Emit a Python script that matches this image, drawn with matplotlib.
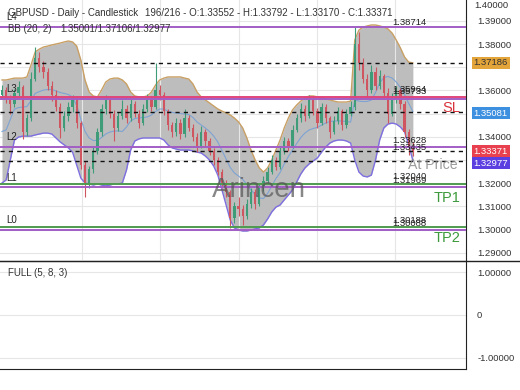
import numpy as np
import matplotlib
matplotlib.use('Agg')
import matplotlib.pyplot as plt
from matplotlib.lines import Line2D

plt.rcParams['font.family'] = ['Liberation Sans', 'DejaVu Sans']

# daily candles (open of each candle = previous close)
first_open = 1.3580
closes = [1.3600, 1.3560, 1.3540, 1.3590, 1.3615, 1.3420, 1.3480, 1.3650, 1.3740, 1.3700,
          1.3680, 1.3620, 1.3580, 1.3530, 1.3440, 1.3490, 1.3530, 1.3565, 1.3460, 1.3280,
          1.3200, 1.3260, 1.3340, 1.3420, 1.3520, 1.3560, 1.3500, 1.3440, 1.3490, 1.3520,
          1.3480, 1.3540, 1.3500, 1.3460, 1.3520, 1.3560, 1.3530, 1.3600, 1.3580, 1.3510,
          1.3450, 1.3420, 1.3460, 1.3410, 1.3480, 1.3440, 1.3400, 1.3360, 1.3420, 1.3380,
          1.3340, 1.3300, 1.3250, 1.3200, 1.3160, 1.3050, 1.3100, 1.3090, 1.3060, 1.3110,
          1.3160, 1.3110, 1.3180, 1.3210, 1.3250, 1.3300, 1.3270, 1.3340, 1.3380, 1.3360,
          1.3430, 1.3480, 1.3520, 1.3490, 1.3560, 1.3510, 1.3460, 1.3530, 1.3480, 1.3420,
          1.3470, 1.3510, 1.3450, 1.3500, 1.3530, 1.3800, 1.3720, 1.3650, 1.3600, 1.3680,
          1.3620, 1.3660, 1.3590, 1.3500, 1.3560, 1.3600, 1.3540, 1.3420, 1.33552, 1.33371]
highs = [1.3625, 1.3615, 1.3580, 1.3605, 1.3640, 1.3625, 1.3500, 1.3680, 1.3787, 1.3765,
         1.3725, 1.3695, 1.3640, 1.3600, 1.3545, 1.3510, 1.3550, 1.3580, 1.3575, 1.3470,
         1.3295, 1.3275, 1.3355, 1.3440, 1.3540, 1.3580, 1.3570, 1.3515, 1.3505, 1.3560,
         1.3535, 1.3565, 1.3555, 1.3515, 1.3540, 1.3585, 1.3575, 1.3718, 1.3625, 1.3595,
         1.3520, 1.3465, 1.3480, 1.3475, 1.3520, 1.3495, 1.3455, 1.3415, 1.3445, 1.3435,
         1.3395, 1.3350, 1.3315, 1.3260, 1.3215, 1.3170, 1.3120, 1.3140, 1.3105, 1.3130,
         1.3180, 1.3175, 1.3195, 1.3230, 1.3270, 1.3320, 1.3315, 1.3355, 1.3400, 1.3395,
         1.3450, 1.3500, 1.3545, 1.3535, 1.3580, 1.3570, 1.3525, 1.3545, 1.3540, 1.3490,
         1.3490, 1.3530, 1.3520, 1.3520, 1.3555, 1.38714, 1.3850, 1.3740, 1.3670, 1.3710,
         1.3700, 1.3690, 1.3670, 1.3610, 1.3590, 1.3620, 1.3610, 1.3555, 1.3435, 1.33792]
lows = [1.3565, 1.3545, 1.3500, 1.3530, 1.3575, 1.3390, 1.3405, 1.3470, 1.3640, 1.3680,
        1.3655, 1.3600, 1.3555, 1.3510, 1.3395, 1.3425, 1.3470, 1.3505, 1.3440, 1.3260,
        1.3140, 1.3180, 1.3245, 1.3325, 1.3405, 1.3500, 1.3480, 1.3380, 1.3425, 1.3475,
        1.3460, 1.3470, 1.3485, 1.3440, 1.3450, 1.3505, 1.3510, 1.3520, 1.3560, 1.3495,
        1.3430, 1.3400, 1.3405, 1.3390, 1.3400, 1.3425, 1.3380, 1.3335, 1.3350, 1.3360,
        1.3320, 1.3280, 1.3235, 1.3180, 1.3140, 1.3005, 1.3030, 1.3060, 1.3020, 1.3045,
        1.3095, 1.3090, 1.3100, 1.3165, 1.3195, 1.3240, 1.3255, 1.3260, 1.3325, 1.3340,
        1.3350, 1.3420, 1.3465, 1.3470, 1.3480, 1.3495, 1.3440, 1.3450, 1.3460, 1.3395,
        1.3410, 1.3455, 1.3430, 1.3440, 1.3490, 1.3515, 1.3690, 1.3630, 1.3570, 1.3590,
        1.3600, 1.3605, 1.3570, 1.3460, 1.3490, 1.3545, 1.3520, 1.3400, 1.3320, 1.33170]

# Bollinger bands (20, 2)
bb_upper = [1.3645, 1.3645, 1.3649, 1.3653, 1.3653, 1.3653, 1.3658, 1.3710, 1.3766, 1.3778,
            1.3787, 1.3791, 1.3796, 1.3800, 1.3804, 1.3809, 1.3813, 1.3809, 1.3791, 1.3731,
            1.3645, 1.3593, 1.3576, 1.3572, 1.3602, 1.3636, 1.3649, 1.3653, 1.3653, 1.3645,
            1.3628, 1.3593, 1.3576, 1.3572, 1.3572, 1.3576, 1.3593, 1.3623, 1.3645, 1.3653,
            1.3658, 1.3658, 1.3658, 1.3658, 1.3653, 1.3649, 1.3628, 1.3593, 1.3572, 1.3559,
            1.3546, 1.3533, 1.3520, 1.3511, 1.3503, 1.3494, 1.3481, 1.3464, 1.3438, 1.3395,
            1.3343, 1.3300, 1.3266, 1.3248, 1.3266, 1.3300, 1.3343, 1.3386, 1.3438, 1.3481,
            1.3516, 1.3537, 1.3554, 1.3567, 1.3576, 1.3576, 1.3572, 1.3567, 1.3563, 1.3559,
            1.3554, 1.3550, 1.3550, 1.3550, 1.3554, 1.3817, 1.3860, 1.3873, 1.3878, 1.3882,
            1.3882, 1.3878, 1.3873, 1.3865, 1.3847, 1.3817, 1.3783, 1.3744, 1.3722, 1.37186]
bb_lower = [1.3201, 1.3214, 1.3300, 1.3386, 1.3399, 1.3403, 1.3403, 1.3403, 1.3408, 1.3412,
            1.3416, 1.3416, 1.3412, 1.3395, 1.3378, 1.3365, 1.3352, 1.3334, 1.3278, 1.3222,
            1.3201, 1.3197, 1.3192, 1.3197, 1.3192, 1.3188, 1.3192, 1.3197, 1.3197, 1.3201,
            1.3257, 1.3343, 1.3382, 1.3391, 1.3395, 1.3395, 1.3395, 1.3395, 1.3395, 1.3386,
            1.3365, 1.3352, 1.3347, 1.3343, 1.3343, 1.3343, 1.3339, 1.3334, 1.3330, 1.3317,
            1.3300, 1.3274, 1.3235, 1.3171, 1.3106, 1.3041, 1.3007, 1.2998, 1.2994, 1.2994,
            1.2998, 1.3003, 1.3007, 1.3020, 1.3046, 1.3076, 1.3097, 1.3106, 1.3128, 1.3149,
            1.3171, 1.3205, 1.3240, 1.3266, 1.3283, 1.3296, 1.3309, 1.3334, 1.3356, 1.3373,
            1.3382, 1.3386, 1.3386, 1.3382, 1.3373, 1.3300, 1.3248, 1.3231, 1.3227, 1.3235,
            1.3300, 1.3386, 1.3438, 1.3455, 1.3459, 1.3455, 1.3442, 1.3421, 1.3365, 1.32977]

# current indicator values (dashed lines + right axis badges)
bb_last_upper = 1.37186
bb_last_mid = 1.35081
last_close = 1.33371
bb_last_lower = 1.32977

# level lines
purple_levels = [1.38714, 1.35650, 1.33573, 1.31850, 1.29980]
sl_level = 1.35733
tp_levels = [1.31960, 1.30130]
left_labels = [('L4', 1.39150), ('L3', 1.36040), ('L2', 1.33990), ('L1', 1.32220), ('L0', 1.30410)]
price_labels = [('1.38714', 1.38940), ('1.35964', 1.36050), ('1.35733', 1.35970),
                ('1.33628', 1.33860), ('1.33435', 1.33540), ('1.32040', 1.32270),
                ('1.31969', 1.32120), ('1.30188', 1.30410), ('1.30088', 1.30280)]
tick_vals = [1.29, 1.30, 1.31, 1.32, 1.34, 1.36, 1.38, 1.39]
grid_vals = np.arange(1.29, 1.395, 0.01)

o = np.array([first_open] + closes[:-1])
c = np.array(closes)
h = np.array(highs)
l = np.array(lows)
up = np.array(bb_upper)
lo = np.array(bb_lower)
mid = (up + lo) / 2
x = np.arange(len(c))

fig = plt.figure(figsize=(5.2, 3.9), dpi=100)
ax = fig.add_axes([0, 1 - 260 / 390, 466 / 520, 260 / 390])
ax2 = fig.add_axes([0, 1 - 369 / 390, 466 / 520, 108 / 390])

ax.set_xlim(-0.48, 111.8)
ax.set_ylim(1.28690, 1.39897)
ax.set_yticks(tick_vals)
ax.set_yticklabels([f'{v:.5f}' for v in tick_vals])
ax.set_xticks(np.arange(19.3, 100, 18.85))
ax.set_xticklabels([])
ax.yaxis.tick_right()
ax.tick_params(axis='y', length=0, pad=8, labelsize=6.8, labelcolor='#333333')
ax.tick_params(axis='x', length=0)
ax.grid(True, axis='x', color='#e6e6e6', lw=0.8, zorder=0)
for v in grid_vals:
    ax.axhline(v, color='#e6e6e6', lw=0.8, zorder=0)
for s in ['left', 'top', 'bottom']:
    ax.spines[s].set_visible(False)
ax.spines['right'].set_color('#222222')

# bands
ax.fill_between(x, lo, up, color='#bdbdbd', zorder=1, lw=0)
ax.plot(x, up, color='#c9a064', lw=1.0, zorder=2)
ax.plot(x, lo, color='#7d6fe0', lw=1.0, zorder=2)
ax.plot(x, mid, color='#7ea3d3', lw=0.8, zorder=2)

# candles
cols = np.where(c >= o, '#3f9c78', '#cf5560')
ax.vlines(x, l, h, colors=cols, lw=0.8, zorder=3)
ax.bar(x, np.maximum(np.abs(c - o), 0.0003), bottom=np.minimum(o, c), width=0.55,
       color=cols, zorder=3, lw=0)

# level lines
for v in [bb_last_upper, bb_last_mid, last_close, bb_last_lower]:
    ax.axhline(v, color='#111111', lw=1, ls=(0, (3, 3)), zorder=4)
for v in purple_levels:
    ax.axhline(v, color='#a25ec6', lw=1.4, zorder=4)
ax.axhline(sl_level, color='#e0457a', lw=1.4, zorder=4)
for v in tp_levels:
    ax.axhline(v, color='#4f9a4f', lw=1.4, zorder=4)

for txt, v in left_labels:
    ax.text(1, v, txt, fontsize=7, color='#222222', va='center', ha='left', zorder=5)
for txt, v in price_labels:
    ax.text(94, v, txt, fontsize=6.8, color='#222222', va='center', ha='left', zorder=5)

ax.text(110.4, 1.35250, 'SL', fontsize=10.5, color='#d8343c', ha='right', va='center', zorder=5)
ax.text(110.4, 1.31380, 'TP1', fontsize=10.5, color='#3c9a3c', ha='right', va='center', zorder=5)
ax.text(110.4, 1.29620, 'TP2', fontsize=10.5, color='#3c9a3c', ha='right', va='center', zorder=5)
ax.text(103.8, 1.32790, 'At Price', fontsize=10.2, color='#8a8a8a', ha='center', va='center',
        alpha=0.85, zorder=5)
ax.text(62, 1.31700, 'Arincen', fontsize=20, color='#555555', ha='center', va='center',
        alpha=0.7, zorder=5)

# right axis badges
badges = [(bb_last_upper, bb_last_upper, '#e3a43a', '#333333'),
          (bb_last_mid, 1.35020, '#3d8fe0', 'white'),
          (last_close, 1.33385, '#e8404f', 'white'),
          (bb_last_lower, 1.32870, '#5b3fe0', 'white')]
for v, ypos, bg, fg in badges:
    ax.annotate(f'{v:.5f}', xy=(1, ypos), xycoords=('axes fraction', 'data'),
                xytext=(5.6, 0), textcoords='offset points', fontsize=6.8, color=fg,
                va='center', ha='left', annotation_clip=False,
                bbox=dict(boxstyle='square,pad=0.18', fc=bg, ec='none'))
ax.annotate('1.40000', xy=(1, 1), xycoords='axes fraction', xytext=(5.8, -4.3),
            textcoords='offset points', fontsize=6.8, color='#333333', va='center',
            annotation_clip=False)

# header text
fig.text(8 / 520, 1 - 12.5 / 390, 'GBPUSD - Daily - Candlestick', fontsize=7, color='#333333',
         va='center')
fig.text(145 / 520, 1 - 12.5 / 390, '196/216 - O:1.33552 - H:1.33792 - L:1.33170 - C:1.33371',
         fontsize=7, color='#333333', va='center')
fig.text(8 / 520, 1 - 29 / 390, 'BB (20, 2)', fontsize=7, color='#333333', va='center')
fig.text(60 / 520, 1 - 29 / 390, '1.35001/1.37106/1.32977', fontsize=7, color='#333333',
         va='center')

# lower panel
ax2.set_xlim(ax.get_xlim())
ax2.set_ylim(-1.256, 1.256)
ax2.set_yticks([-1, 0, 1])
ax2.set_yticklabels(['-1.00000', '0', '1.00000'])
ax2.yaxis.tick_right()
ax2.tick_params(axis='y', length=0, pad=8, labelsize=6.8, labelcolor='#333333')
ax2.set_xticks([])
ax2.grid(True, axis='y', color='#e6e6e6', lw=0.8)
ax2.spines['left'].set_visible(False)
for s in ['top', 'right', 'bottom']:
    ax2.spines[s].set_color('#222222')
ax2.text(8 / 466, 1 - 12 / 108, 'FULL (5, 8, 3)', transform=ax2.transAxes, fontsize=7,
         color='#333333', va='center')

fig.add_artist(Line2D([0, 1], [1 - 260.5 / 390] * 2, color='#222222', lw=1))

fig.savefig('out.png', dpi=100)
